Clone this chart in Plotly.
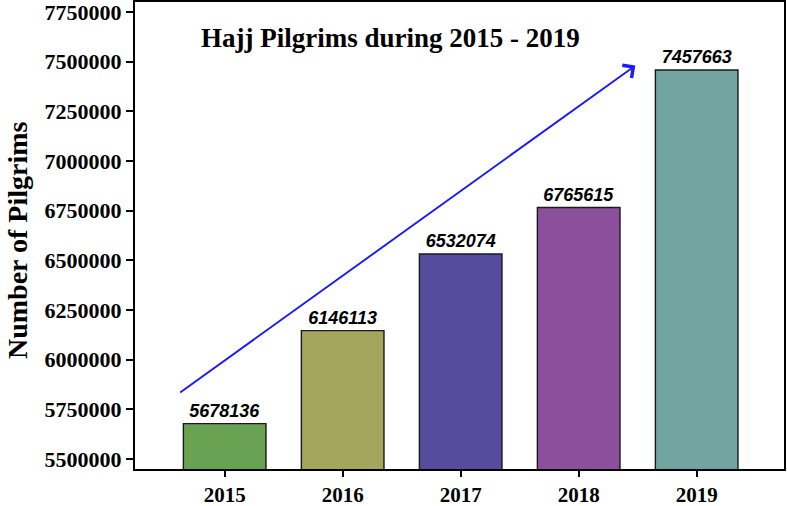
import plotly.graph_objects as go


years = ["2015", "2016", "2017", "2018", "2019"]
pilgrims = [5678136, 6146113, 6532074, 6765615, 7457663]
bar_colors = ["#6aa253", "#a3a65c", "#564c9d", "#8c4f9c", "#72a4a2"]
y_ticks = [5500000, 5750000, 6000000, 6250000, 6500000, 6750000, 7000000, 7250000, 7500000, 7750000]

SERIF = "Liberation Serif, Times New Roman, serif"
SANS = "Liberation Sans, Arial, sans-serif"


def build_figure() -> go.Figure:
    fig = go.Figure()
    fig.add_bar(
        x=years,
        y=pilgrims,
        marker=dict(color=bar_colors, line=dict(color="#1a1a1a", width=1.4)),
        width=0.70,
        text=[f"<b><i>{v}</i></b>" for v in pilgrims],
        textposition="outside",
        textfont=dict(family=SANS, size=18, color="black"),
        cliponaxis=False,
        showlegend=False,
    )

    # trend arrow
    fig.add_annotation(
        x=3.48, y=7480000, ax=-0.39, ay=5830000,
        xref="x", yref="y", axref="x", ayref="y",
        showarrow=True, arrowhead=4, arrowsize=1.6, arrowwidth=1.9,
        arrowcolor="#1a1aff", text="",
    )

    fig.add_annotation(
        text="<b>Hajj Pilgrims during 2015 - 2019</b>",
        xref="paper", yref="paper", x=0.393, y=0.923,
        xanchor="center", yanchor="middle",
        showarrow=False, font=dict(family=SERIF, size=27, color="black"),
    )

    # y axis title placed by hand so the plot area stays fixed
    fig.add_annotation(
        text="<b>Number of Pilgrims</b>", textangle=-90,
        xref="paper", yref="paper", x=-0.182, y=0.49,
        xanchor="center", yanchor="middle",
        showarrow=False, font=dict(family=SERIF, size=28, color="black"),
    )

    fig.update_layout(
        width=787, height=506,
        margin=dict(l=135, r=3, t=2, b=37, autoexpand=False),
        paper_bgcolor="white", plot_bgcolor="white",
        bargap=0.3,
    )
    fig.update_xaxes(
        range=[-0.76, 4.74], automargin=False,
        showline=True, linecolor="black", linewidth=2, mirror=True,
        ticks="outside", ticklen=6, tickwidth=1.5, tickcolor="black",
        tickfont=dict(family=SERIF, size=21, color="black"),
        tickprefix="<b>", ticksuffix="</b>",
        ticklabeloverflow="allow",
        showgrid=False,
    )
    fig.update_yaxes(
        range=[5450000, 7800000], automargin=False,
        tickvals=y_ticks, ticktext=[f"<b>{v}</b>" for v in y_ticks],
        showline=True, linecolor="black", linewidth=2, mirror=True,
        ticks="outside", ticklen=7, tickwidth=1.5, tickcolor="black",
        tickfont=dict(family=SERIF, size=22, color="black"),
        ticklabeloverflow="allow",
        showgrid=False, zeroline=False,
    )
    return fig


def main() -> None:
    fig = build_figure()
    # drop the page's default body margin so the 787x506 figure sits at 0,0
    fig.write_html(
        "out.html",
        config={"displayModeBar": False},
        post_script="document.body.style.margin = '0';",
    )


if __name__ == "__main__":
    main()
